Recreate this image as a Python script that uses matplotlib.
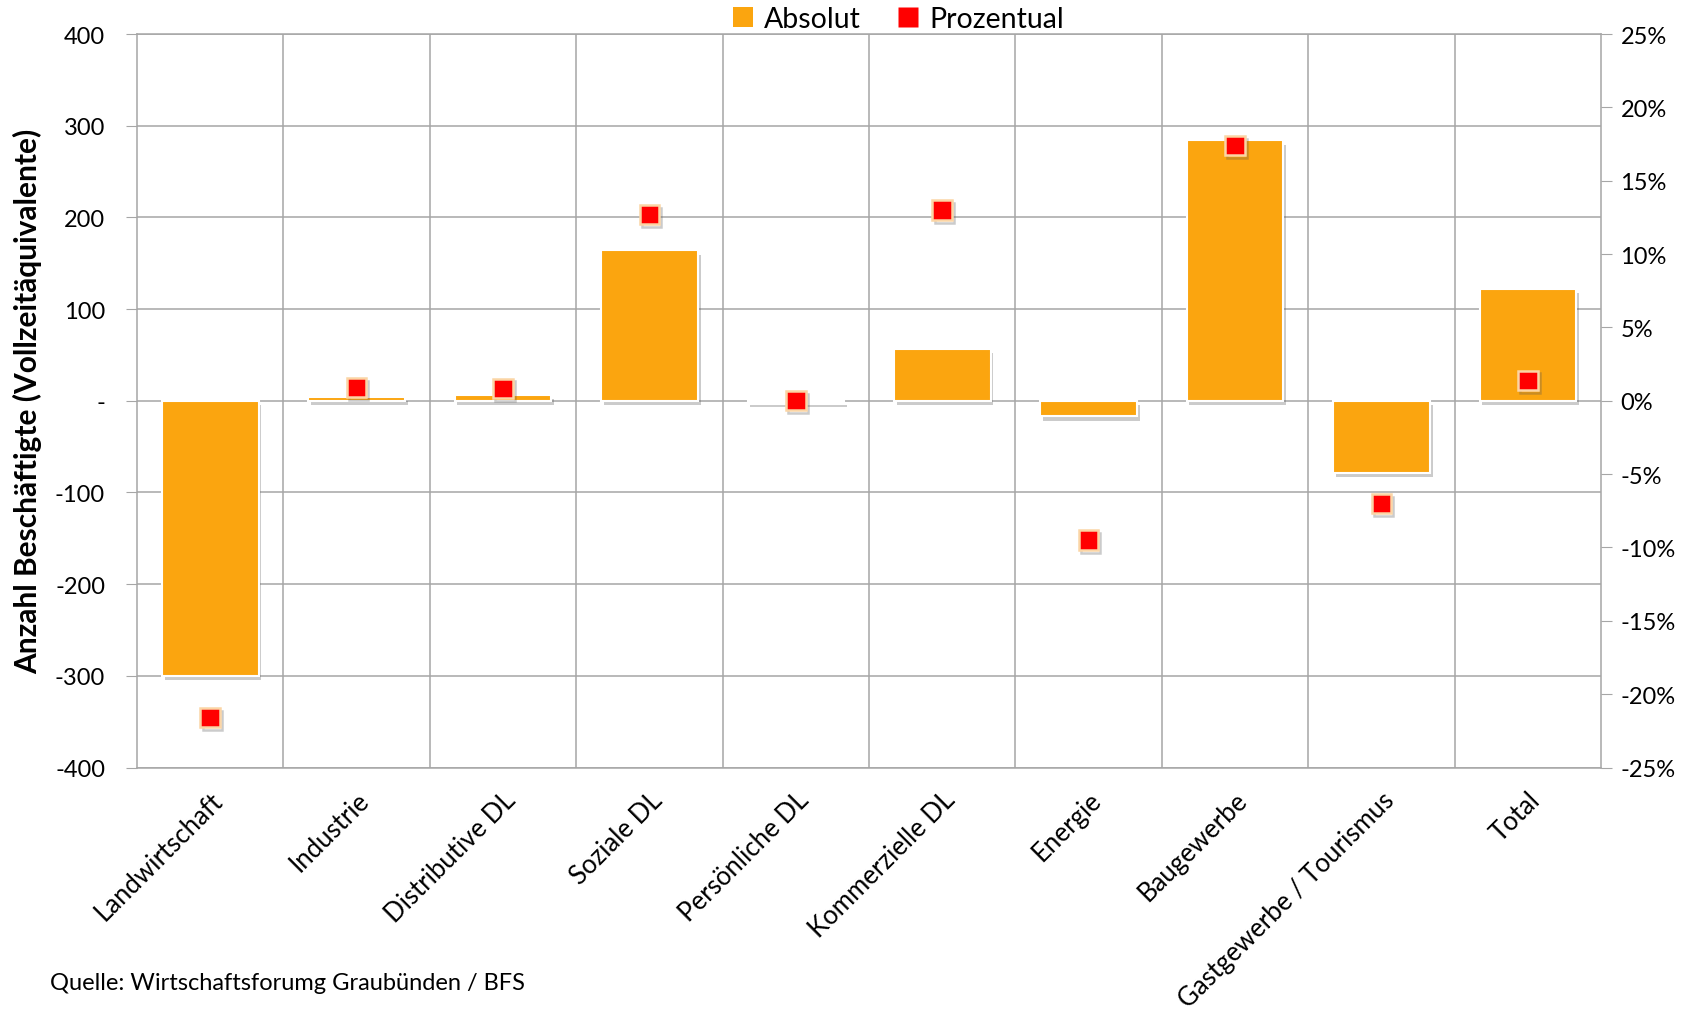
import matplotlib
matplotlib.use("Agg")
import matplotlib.pyplot as plt
from matplotlib import patheffects as pe
from matplotlib.ticker import FixedLocator, FuncFormatter
from matplotlib.lines import Line2D
from matplotlib.patches import Patch
import numpy as np

# Veränderung der Beschäftigung nach Branche
categories = ["Landwirtschaft", "Industrie", "Distributive DL", "Soziale DL",
              "Persönliche DL", "Kommerzielle DL", "Energie", "Baugewerbe",
              "Gastgewerbe / Tourismus", "Total"]
absolut = [-300, 4, 6, 164, -2, 57, -17, 284, -79, 122]
prozentual = [-21.6, 0.9, 0.85, 12.7, 0.0, 13.0, -9.5, 17.4, -7.0, 1.4]

left_ticks = [-400, -300, -200, -100, 0, 100, 200, 300, 400]
right_ticks = [-25, -20, -15, -10, -5, 0, 5, 10, 15, 20, 25]

FONT = "Lato"
BAR_COLOR = "#FBA50F"
MARKER_COLOR = "#FF0000"
GRID_COLOR = "#A6A6A6"

plt.rcParams["font.family"] = [FONT, "DejaVu Sans"]

fig = plt.figure(figsize=(16.83, 10.12), dpi=100)
ax = fig.add_axes([0.0814, 0.2406, 0.9513 - 0.0814, 0.9654 - 0.2406])
ax2 = ax.twinx()

x = np.arange(len(categories))

bars = ax.bar(x, absolut, width=0.66, color=BAR_COLOR, edgecolor="white",
              linewidth=1.5, zorder=3)
for b in bars:
    b.set_path_effects([pe.SimplePatchShadow(offset=(2, -3), shadow_rgbFace="#555555", alpha=0.3),
                        pe.Normal()])

ax2.plot(x, prozentual, linestyle="none", marker="s", markersize=14,
         markerfacecolor=MARKER_COLOR, markeredgecolor="#FBD5A5", markeredgewidth=1.8,
         zorder=4,
         path_effects=[pe.SimpleLineShadow(offset=(1.5, -2), shadow_color="#555555", alpha=0.3),
                       pe.Normal()])

# Achsen links
ax.set_xlim(-0.5, len(categories) - 0.5)
ax.set_ylim(-400, 400)
ax.yaxis.set_major_locator(FixedLocator(left_ticks))
ax.yaxis.set_major_formatter(FuncFormatter(lambda v, p: "-" if v == 0 else f"{int(v)}"))
ax.tick_params(axis="y", which="major", length=8, color=GRID_COLOR, labelsize=17, pad=15)

ax.set_xticks(x)
ax.set_xticklabels(categories, rotation=45, ha="right", va="top",
                   rotation_mode="anchor", fontsize=18.5)
ax.tick_params(axis="x", which="major", length=0, pad=14)
ax.set_xticks(np.arange(0.5, len(categories) - 0.5, 1.0), minor=True)
ax.tick_params(axis="x", which="minor", length=0)

ax.grid(axis="y", which="major", color=GRID_COLOR, linewidth=1.1, zorder=0)
ax.grid(axis="x", which="minor", color=GRID_COLOR, linewidth=1.1, zorder=0)
ax.set_axisbelow(True)

for s in ax.spines.values():
    s.set_color(GRID_COLOR)
    s.set_linewidth(1.1)
for s in ax2.spines.values():
    s.set_visible(False)

ax.set_ylabel("Anzahl Beschäftigte (Vollzeitäquivalente)", fontsize=21.5,
              fontweight="bold", labelpad=9)

# Achse rechts (Prozent)
ax2.set_ylim(-25, 25)
ax2.yaxis.set_major_locator(FixedLocator(right_ticks))
ax2.yaxis.set_major_formatter(FuncFormatter(lambda v, p: f"{int(v)}%"))
ax2.tick_params(axis="y", length=8, color=GRID_COLOR, labelsize=17, pad=6)

# Legende
handles = [Patch(facecolor=BAR_COLOR, edgecolor="none", label="Absolut"),
           Line2D([], [], linestyle="none", marker="s", markersize=15,
                  markerfacecolor=MARKER_COLOR, markeredgecolor="none", label="Prozentual")]
fig.legend(handles=handles, loc="center", bbox_to_anchor=(0.534, 0.98), ncol=2,
           frameon=False, fontsize=20.5, handlelength=0.7, handleheight=0.7,
           handletextpad=0.4, columnspacing=1.3, borderpad=0.1)

fig.text(0.0297, 0.0277, "Quelle: Wirtschaftsforumg Graubünden / BFS", fontsize=17,
         ha="left", va="center")

fig.savefig("out.png", dpi=100)
